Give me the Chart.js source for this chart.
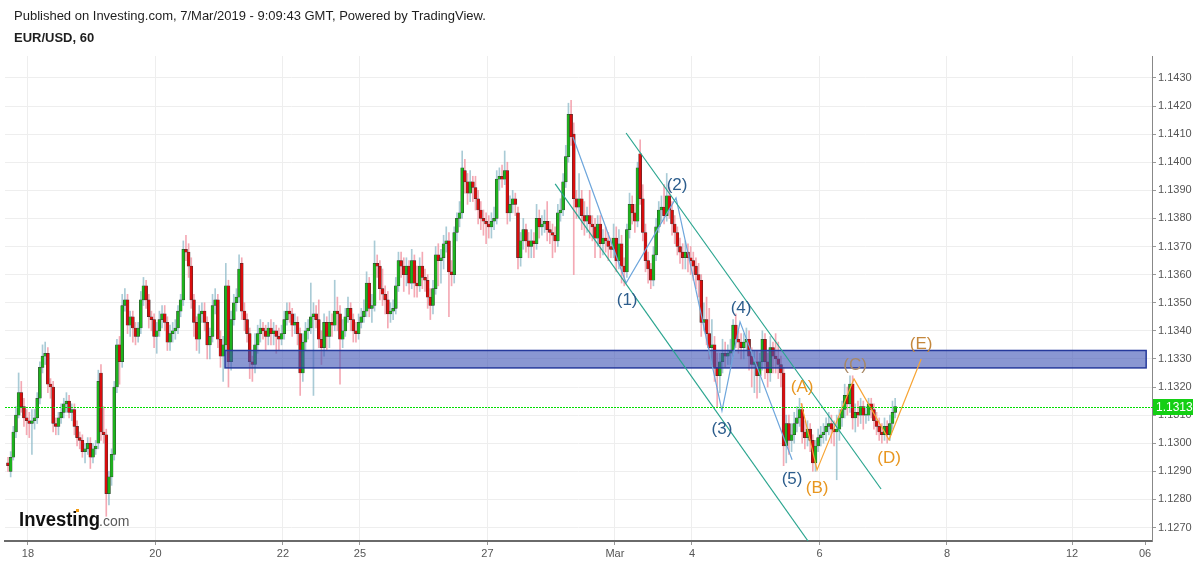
<!DOCTYPE html>
<html><head><meta charset="utf-8">
<script src="https://cdn.jsdelivr.net/npm/chart.js@4.4.0/dist/chart.umd.min.js"></script>
<style>html,body{margin:0;padding:0;background:#fff;}#wrap{width:1200px;height:563px;}</style>
</head><body><div id="wrap"><canvas id="c" width="1200" height="563"></canvas></div>
<script>
// ---- data (hourly EUR/USD candles) ----
const opens=[1.1293,1.1290,1.1295,1.1304,1.1310,1.1318,1.1313,1.1309,1.1308,1.1307,
1.1308,1.1309,1.1316,1.1327,1.1331,1.1332,1.1321,1.1320,1.1307,1.1306,
1.1309,1.1311,1.1314,1.1315,1.1311,1.1312,1.1306,1.1302,1.1301,1.1297,
1.1298,1.1300,1.1295,1.1298,1.1300,1.1325,1.1304,1.1303,1.1282,1.1288,
1.1296,1.1320,1.1335,1.1329,1.1349,1.1351,1.1342,1.1345,1.1341,1.1338,
1.1341,1.1351,1.1356,1.1351,1.1345,1.1344,1.1338,1.1340,1.1344,1.1346,
1.1343,1.1336,1.1339,1.1340,1.1341,1.1347,1.1351,1.1369,1.1368,1.1363,
1.1351,1.1343,1.1337,1.1346,1.1347,1.1343,1.1335,1.1338,1.1349,1.1351,
1.1337,1.1331,1.1335,1.1356,1.1329,1.1344,1.1350,1.1352,1.1364,1.1347,
1.1344,1.1339,1.1329,1.1328,1.1335,1.1339,1.1341,1.1340,1.1338,1.1341,
1.1339,1.1340,1.1338,1.1337,1.1339,1.1344,1.1347,1.1346,1.1342,1.1343,
1.1339,1.1325,1.1336,1.1340,1.1341,1.1345,1.1346,1.1344,1.1337,1.1334,
1.1343,1.1338,1.1343,1.1342,1.1347,1.1346,1.1337,1.1340,1.1345,1.1348,
1.1344,1.1340,1.1339,1.1343,1.1345,1.1347,1.1357,1.1348,1.1349,1.1364,
1.1363,1.1355,1.1353,1.1351,1.1346,1.1347,1.1348,1.1356,1.1365,1.1363,
1.1360,1.1363,1.1357,1.1365,1.1357,1.1356,1.1363,1.1359,1.1358,1.1352,
1.1349,1.1355,1.1367,1.1365,1.1366,1.1371,1.1372,1.1361,1.1360,1.1375,
1.1380,1.1382,1.1397,1.1393,1.1389,1.1393,1.1391,1.1387,1.1383,1.1380,
1.1379,1.1378,1.1377,1.1379,1.1380,1.1394,1.1395,1.1394,1.1397,1.1382,
1.1385,1.1387,1.1382,1.1366,1.1372,1.1376,1.1372,1.1370,1.1372,1.1371,
1.1380,1.1377,1.1378,1.1379,1.1376,1.1375,1.1374,1.1372,1.1382,1.1383,
1.1393,1.1402,1.1417,1.1410,1.1387,1.1384,1.1387,1.1381,1.1379,1.1381,
1.1378,1.1377,1.1373,1.1378,1.1371,1.1373,1.1372,1.1370,1.1369,1.1373,
1.1365,1.1371,1.1363,1.1361,1.1376,1.1385,1.1382,1.1379,1.1403,1.1387,
1.1375,1.1365,1.1362,1.1358,1.1367,1.1377,1.1383,1.1384,1.1381,1.1388,
1.1383,1.1378,1.1375,1.1370,1.1368,1.1366,1.1368,1.1366,1.1365,1.1363,
1.1360,1.1358,1.1343,1.1344,1.1339,1.1334,1.1335,1.1327,1.1324,1.1329,
1.1332,1.1331,1.1332,1.1333,1.1342,1.1337,1.1336,1.1334,1.1336,1.1337,
1.1331,1.1328,1.1329,1.1324,1.1329,1.1337,1.1329,1.1325,1.1334,1.1331,
1.1330,1.1328,1.1325,1.1299,1.1307,1.1301,1.1303,1.1307,1.1309,1.1312,
1.1304,1.1302,1.1305,1.1301,1.1293,1.1299,1.1302,1.1303,1.1304,1.1306,
1.1307,1.1305,1.1304,1.1305,1.1309,1.1312,1.1317,1.1314,1.1321,1.1309,
1.1311,1.1310,1.1313,1.1310,1.1310,1.1314,1.1312,1.1308,1.1306,1.1304,
1.1303,1.1306,1.1303,1.1307,1.1311];
const highs=[1.1295,1.1297,1.1306,1.1313,1.1325,1.1322,1.1316,1.1312,1.1311,1.1312,
1.1312,1.1318,1.1329,1.1335,1.1336,1.1334,1.1323,1.1322,1.1309,1.1311,
1.1314,1.1316,1.1318,1.1317,1.1314,1.1314,1.1308,1.1304,1.1303,1.1300,
1.1302,1.1302,1.1300,1.1301,1.1326,1.1328,1.1313,1.1305,1.1290,1.1298,
1.1322,1.1337,1.1338,1.1353,1.1355,1.1353,1.1347,1.1347,1.1343,1.1343,
1.1354,1.1359,1.1358,1.1353,1.1347,1.1346,1.1343,1.1347,1.1349,1.1349,
1.1345,1.1342,1.1343,1.1344,1.1349,1.1353,1.1372,1.1374,1.1371,1.1366,
1.1353,1.1345,1.1349,1.1350,1.1350,1.1345,1.1341,1.1353,1.1355,1.1353,
1.1340,1.1338,1.1364,1.1358,1.1347,1.1353,1.1355,1.1367,1.1366,1.1350,
1.1346,1.1341,1.1331,1.1339,1.1342,1.1344,1.1343,1.1342,1.1343,1.1344,
1.1343,1.1342,1.1341,1.1342,1.1347,1.1350,1.1350,1.1348,1.1346,1.1345,
1.1341,1.1339,1.1343,1.1344,1.1357,1.1350,1.1349,1.1351,1.1340,1.1346,
1.1345,1.1347,1.1346,1.1358,1.1352,1.1349,1.1344,1.1348,1.1352,1.1350,
1.1346,1.1343,1.1346,1.1348,1.1351,1.1361,1.1359,1.1353,1.1372,1.1367,
1.1365,1.1362,1.1356,1.1354,1.1350,1.1351,1.1359,1.1368,1.1368,1.1366,
1.1366,1.1365,1.1369,1.1367,1.1363,1.1366,1.1368,1.1362,1.1360,1.1355,
1.1358,1.1370,1.1371,1.1369,1.1374,1.1377,1.1375,1.1365,1.1377,1.1382,
1.1386,1.1404,1.1401,1.1396,1.1397,1.1395,1.1395,1.1390,1.1386,1.1383,
1.1382,1.1381,1.1382,1.1384,1.1397,1.1398,1.1399,1.1404,1.1400,1.1388,
1.1390,1.1389,1.1384,1.1375,1.1380,1.1378,1.1375,1.1376,1.1375,1.1385,
1.1383,1.1381,1.1383,1.1386,1.1379,1.1378,1.1377,1.1385,1.1387,1.1396,
1.1406,1.1421,1.1422,1.1414,1.1390,1.1396,1.1390,1.1386,1.1384,1.1390,
1.1381,1.1380,1.1381,1.1381,1.1376,1.1377,1.1375,1.1373,1.1378,1.1377,
1.1376,1.1374,1.1366,1.1378,1.1389,1.1388,1.1385,1.1400,1.1408,1.1392,
1.1378,1.1368,1.1364,1.1370,1.1380,1.1386,1.1388,1.1392,1.1396,1.1391,
1.1386,1.1381,1.1377,1.1373,1.1371,1.1372,1.1371,1.1370,1.1368,1.1366,
1.1364,1.1360,1.1350,1.1352,1.1348,1.1344,1.1338,1.1332,1.1332,1.1337,
1.1336,1.1335,1.1337,1.1344,1.1346,1.1340,1.1339,1.1339,1.1341,1.1340,
1.1334,1.1333,1.1333,1.1332,1.1340,1.1339,1.1332,1.1338,1.1336,1.1339,
1.1336,1.1331,1.1327,1.1310,1.1310,1.1307,1.1311,1.1313,1.1316,1.1314,
1.1308,1.1308,1.1307,1.1303,1.1301,1.1305,1.1306,1.1307,1.1309,1.1311,
1.1310,1.1308,1.1310,1.1312,1.1315,1.1321,1.1320,1.1324,1.1324,1.1314,
1.1315,1.1316,1.1315,1.1313,1.1316,1.1316,1.1314,1.1311,1.1309,1.1307,
1.1309,1.1308,1.1310,1.1315,1.1316];
const lows=[1.1290,1.1288,1.1294,1.1302,1.1309,1.1311,1.1306,1.1303,1.1302,1.1296,
1.1305,1.1307,1.1314,1.1325,1.1328,1.1318,1.1316,1.1304,1.1303,1.1303,
1.1307,1.1309,1.1311,1.1309,1.1308,1.1303,1.1299,1.1298,1.1295,1.1293,
1.1296,1.1291,1.1293,1.1296,1.1298,1.1301,1.1300,1.1274,1.1278,1.1285,
1.1294,1.1318,1.1321,1.1327,1.1347,1.1339,1.1338,1.1336,1.1335,1.1336,
1.1339,1.1349,1.1348,1.1341,1.1340,1.1334,1.1332,1.1338,1.1341,1.1340,
1.1333,1.1333,1.1336,1.1337,1.1339,1.1345,1.1349,1.1365,1.1359,1.1348,
1.1338,1.1333,1.1332,1.1343,1.1340,1.1330,1.1330,1.1336,1.1346,1.1334,
1.1327,1.1322,1.1333,1.1320,1.1326,1.1342,1.1347,1.1350,1.1344,1.1340,
1.1336,1.1323,1.1322,1.1325,1.1332,1.1336,1.1337,1.1333,1.1335,1.1335,
1.1335,1.1332,1.1333,1.1335,1.1337,1.1342,1.1343,1.1338,1.1339,1.1335,
1.1317,1.1322,1.1333,1.1337,1.1339,1.1317,1.1341,1.1334,1.1328,1.1331,
1.1333,1.1334,1.1338,1.1340,1.1340,1.1321,1.1334,1.1338,1.1343,1.1340,
1.1336,1.1336,1.1337,1.1341,1.1343,1.1345,1.1345,1.1343,1.1347,1.1359,
1.1351,1.1349,1.1346,1.1341,1.1343,1.1344,1.1346,1.1354,1.1359,1.1354,
1.1356,1.1353,1.1355,1.1352,1.1352,1.1354,1.1355,1.1354,1.1348,1.1344,
1.1346,1.1353,1.1356,1.1357,1.1362,1.1368,1.1345,1.1356,1.1357,1.1372,
1.1377,1.1380,1.1389,1.1385,1.1386,1.1386,1.1383,1.1378,1.1376,1.1374,
1.1371,1.1373,1.1373,1.1376,1.1378,1.1390,1.1391,1.1392,1.1378,1.1379,
1.1382,1.1381,1.1362,1.1363,1.1369,1.1368,1.1366,1.1366,1.1366,1.1369,
1.1373,1.1374,1.1375,1.1372,1.1371,1.1366,1.1368,1.1370,1.1379,1.1381,
1.1391,1.1400,1.1406,1.1360,1.1380,1.1380,1.1376,1.1374,1.1375,1.1373,
1.1372,1.1366,1.1370,1.1366,1.1367,1.1368,1.1365,1.1366,1.1366,1.1361,
1.1362,1.1357,1.1356,1.1359,1.1373,1.1378,1.1375,1.1377,1.1385,1.1372,
1.1361,1.1357,1.1355,1.1356,1.1365,1.1375,1.1379,1.1378,1.1379,1.1380,
1.1374,1.1371,1.1367,1.1364,1.1362,1.1362,1.1361,1.1360,1.1358,1.1355,
1.1352,1.1338,1.1340,1.1335,1.1330,1.1328,1.1322,1.1313,1.1318,1.1325,
1.1327,1.1328,1.1328,1.1331,1.1334,1.1332,1.1330,1.1330,1.1333,1.1326,
1.1320,1.1318,1.1316,1.1318,1.1326,1.1323,1.1320,1.1322,1.1325,1.1325,
1.1323,1.1320,1.1292,1.1293,1.1296,1.1297,1.1300,1.1304,1.1306,1.1300,
1.1298,1.1299,1.1297,1.1290,1.1290,1.1297,1.1299,1.1300,1.1301,1.1303,
1.1300,1.1299,1.1287,1.1301,1.1306,1.1309,1.1310,1.1311,1.1305,1.1304,
1.1306,1.1307,1.1305,1.1307,1.1308,1.1309,1.1305,1.1303,1.1301,1.1300,
1.1301,1.1300,1.1301,1.1305,1.1309];
const closes=[1.1292,1.1295,1.1304,1.1310,1.1318,1.1313,1.1309,1.1308,1.1307,1.1308,
1.1309,1.1316,1.1327,1.1331,1.1332,1.1321,1.1320,1.1307,1.1306,1.1309,
1.1311,1.1314,1.1315,1.1311,1.1312,1.1306,1.1302,1.1301,1.1297,1.1298,
1.1300,1.1295,1.1298,1.1299,1.1322,1.1304,1.1303,1.1282,1.1288,1.1296,
1.1320,1.1335,1.1329,1.1349,1.1351,1.1342,1.1345,1.1341,1.1338,1.1341,
1.1351,1.1356,1.1351,1.1345,1.1344,1.1338,1.1340,1.1344,1.1346,1.1343,
1.1336,1.1339,1.1340,1.1341,1.1347,1.1351,1.1369,1.1368,1.1363,1.1351,
1.1343,1.1337,1.1346,1.1347,1.1343,1.1335,1.1338,1.1349,1.1351,1.1337,
1.1331,1.1335,1.1356,1.1329,1.1344,1.1350,1.1352,1.1362,1.1347,1.1344,
1.1339,1.1329,1.1328,1.1335,1.1339,1.1341,1.1340,1.1338,1.1341,1.1339,
1.1340,1.1338,1.1337,1.1339,1.1344,1.1347,1.1346,1.1342,1.1343,1.1339,
1.1325,1.1336,1.1340,1.1341,1.1345,1.1346,1.1344,1.1337,1.1334,1.1343,
1.1338,1.1343,1.1342,1.1347,1.1346,1.1337,1.1340,1.1345,1.1348,1.1344,
1.1340,1.1339,1.1343,1.1345,1.1347,1.1357,1.1348,1.1349,1.1364,1.1363,
1.1355,1.1353,1.1351,1.1346,1.1347,1.1348,1.1356,1.1365,1.1363,1.1360,
1.1363,1.1357,1.1365,1.1357,1.1356,1.1363,1.1359,1.1358,1.1352,1.1349,
1.1355,1.1367,1.1365,1.1366,1.1371,1.1372,1.1361,1.1360,1.1375,1.1380,
1.1382,1.1398,1.1393,1.1389,1.1393,1.1391,1.1387,1.1383,1.1380,1.1379,
1.1378,1.1377,1.1379,1.1380,1.1394,1.1395,1.1394,1.1397,1.1382,1.1385,
1.1387,1.1385,1.1366,1.1372,1.1376,1.1372,1.1370,1.1372,1.1371,1.1380,
1.1377,1.1378,1.1379,1.1376,1.1375,1.1374,1.1372,1.1382,1.1383,1.1393,
1.1402,1.1417,1.1409,1.1387,1.1384,1.1387,1.1381,1.1379,1.1381,1.1378,
1.1377,1.1373,1.1378,1.1371,1.1373,1.1372,1.1370,1.1369,1.1373,1.1365,
1.1371,1.1363,1.1361,1.1376,1.1385,1.1382,1.1379,1.1398,1.1387,1.1375,
1.1365,1.1362,1.1358,1.1367,1.1377,1.1383,1.1384,1.1381,1.1388,1.1383,
1.1378,1.1375,1.1370,1.1368,1.1366,1.1368,1.1366,1.1365,1.1363,1.1360,
1.1358,1.1343,1.1344,1.1339,1.1334,1.1335,1.1327,1.1324,1.1329,1.1332,
1.1331,1.1332,1.1333,1.1342,1.1337,1.1336,1.1334,1.1336,1.1337,1.1331,
1.1328,1.1329,1.1324,1.1329,1.1337,1.1329,1.1325,1.1334,1.1331,1.1330,
1.1328,1.1325,1.1299,1.1307,1.1301,1.1303,1.1307,1.1309,1.1312,1.1304,
1.1302,1.1305,1.1301,1.1293,1.1299,1.1302,1.1303,1.1304,1.1306,1.1307,
1.1305,1.1304,1.1305,1.1309,1.1312,1.1317,1.1314,1.1321,1.1309,1.1311,
1.1310,1.1313,1.1310,1.1310,1.1314,1.1312,1.1308,1.1306,1.1304,1.1303,
1.1306,1.1303,1.1307,1.1311,1.1313];

const yTicks=[1.1270,1.1280,1.1290,1.1300,1.1310,1.1320,1.1330,1.1340,1.1350,1.1360,1.1370,1.1380,1.1390,1.1400,1.1410,1.1420,1.1430];
const xTickPos=[7.5,55.5,103.5,132.5,180.5,228.5,257.5,305.5,353.5,400.6,428.1];
const xTickLabels=['18','20','22','25','27','Mar','4','6','8','12','06'];
const lastPrice=1.1313;
// drawings (bar index / price)
const zoneX=[81.7,428.5];
const zoneY=[1.13268,1.13330];
const chanUpX=[232.7,328.7], chanUpY=[1.14104,1.12837];
const chanLoX=[206.0,301.2], chanLoY=[1.13923,1.12652];
const waveX=[212.7,232.7,251.5,268.8,275.6,295.2];
const waveY=[1.14090,1.13570,1.13873,1.13115,1.13432,1.12941];
const abcX=[298.6,304.6,318.5,331.7,343.8];
const abcY=[1.13143,1.12905,1.13229,1.13012,1.13300];
const waveLabels=['(1)','(2)','(3)','(4)','(5)'];
const waveLabelX=[233.1,251.9,268.8,276.0,295.2];
const waveLabelY=[1.13510,1.13919,1.13051,1.13481,1.12873];
const abcLabels=['(A)','(B)','(C)','(D)','(E)'];
const abcLabelX=[299.0,304.6,318.9,331.7,343.8];
const abcLabelY=[1.13200,1.12841,1.13279,1.12948,1.13353];
const abcLabelColors=['#e8961f','#e8961f','#a88865','#e8961f','#c4873c'];

const FONT='Arial, "Liberation Sans", sans-serif';
Chart.defaults.font.family=FONT;

const idx=closes.map((_,i)=>i);
const isUp=idx.map(i=>closes[i]>=opens[i]);
const pts=(xs,ys)=>xs.map((x,k)=>({x:x,y:ys[k]}));

const overlay={
  id:'overlay',
  afterDatasetDraw(chart,args){
    if(args.meta.label!=='bodies')return;
    const {ctx,chartArea:ca,scales:{x,y}}=chart;
    const x0=x.getPixelForValue(zoneX[0]),x1=x.getPixelForValue(zoneX[1]);
    const yT=y.getPixelForValue(zoneY[1]),yB=y.getPixelForValue(zoneY[0]);
    ctx.save();
    ctx.beginPath();ctx.rect(ca.left,ca.top,ca.right-ca.left,ca.bottom-ca.top);ctx.clip();
    ctx.fillStyle='rgba(60,82,180,0.6)';
    ctx.fillRect(x0,yT,x1-x0,yB-yT);
    ctx.strokeStyle='#263a9c';ctx.lineWidth=1.5;
    ctx.strokeRect(x0,yT,x1-x0,yB-yT);
    ctx.restore();
  },
  afterDatasetsDraw(chart){
    const {ctx,chartArea:ca,scales:{x,y}}=chart;
    ctx.save();
    // last price dotted line (crisp pixel dots)
    const py=Math.round(y.getPixelForValue(lastPrice));
    ctx.fillStyle='#00dd00';
    for(let px=Math.ceil(ca.left);px<ca.right;px+=3){ctx.fillRect(px,py,2,1);}
    // wave labels
    ctx.font='17px '+FONT;ctx.textAlign='center';ctx.textBaseline='middle';
    ctx.fillStyle='#2c5d8c';
    waveLabels.forEach((t,k)=>ctx.fillText(t,x.getPixelForValue(waveLabelX[k]),y.getPixelForValue(waveLabelY[k])));
    abcLabels.forEach((t,k)=>{ctx.fillStyle=abcLabelColors[k];ctx.fillText(t,x.getPixelForValue(abcLabelX[k]),y.getPixelForValue(abcLabelY[k]));});
    ctx.restore();
  },
  afterDraw(chart){
    const {ctx,chartArea:ca,scales:{y}}=chart;
    ctx.save();
    // price tag
    const py=Math.round(y.getPixelForValue(lastPrice));
    ctx.fillStyle='#14cf14';
    ctx.fillRect(ca.right+1,py-8,40,16);
    ctx.fillStyle='#ffffff';ctx.font='12px '+FONT;ctx.textAlign='left';ctx.textBaseline='middle';
    ctx.fillText(lastPrice.toFixed(4),ca.right+4,py+1);
    // header
    ctx.fillStyle='#1e1e1e';ctx.font='13px '+FONT;ctx.textBaseline='middle';
    ctx.fillText('Published on Investing.com, 7/Mar/2019 - 9:09:43 GMT, Powered by TradingView.',14,16);
    ctx.font='bold 13px '+FONT;
    ctx.fillText('EUR/USD, 60',14,38);
    // logo
    ctx.textBaseline='alphabetic';
    ctx.font='bold 20px '+FONT;
    const w=ctx.measureText('Investing').width;
    ctx.save();ctx.translate(19,526);ctx.scale(81/w,1);
    ctx.fillStyle='#111';ctx.fillText('Investing',0,0);ctx.restore();
    ctx.fillStyle='#f39c12';ctx.fillRect(76,509,3,3);
    ctx.fillStyle='#5a5a5a';ctx.font='14px '+FONT;
    ctx.fillText('.com',99,526);
    ctx.restore();
  }
};

new Chart(document.getElementById('c'),{
  type:'bar',
  data:{datasets:[
    {type:'line',label:'chanUp',data:pts(chanUpX,chanUpY),borderColor:'#2aa58f',borderWidth:1.2,pointRadius:0,order:0},
    {type:'line',label:'chanLo',data:pts(chanLoX,chanLoY),borderColor:'#2aa58f',borderWidth:1.2,pointRadius:0,order:0},
    {type:'line',label:'wave',data:pts(waveX,waveY),borderColor:'#6ea6dc',borderWidth:1.2,pointRadius:0,order:0},
    {type:'line',label:'abcde',data:pts(abcX,abcY),borderColor:'#f7a535',borderWidth:1.2,pointRadius:0,order:0},
    {label:'bodies',data:idx.map(i=>({x:i,y:[opens[i],closes[i]]})),
     backgroundColor:idx.map(i=>isUp[i]?'#1db21d':'#d80d0d'),borderColor:'#333',borderWidth:0.5,
     borderSkipped:false,barThickness:3,minBarLength:1,grouped:false,order:1},
    {label:'wicks',data:idx.map(i=>({x:i,y:[lows[i],highs[i]]})),
     backgroundColor:idx.map(i=>isUp[i]?'rgba(140,185,200,0.75)':'rgba(240,140,155,0.75)'),
     borderWidth:0,barThickness:1,grouped:false,order:2}
  ]},
  options:{
    responsive:false,animation:false,devicePixelRatio:1,
    layout:{padding:{top:56,left:5,right:0,bottom:0}},
    plugins:{legend:{display:false},tooltip:{enabled:false}},
    scales:{
      x:{type:'linear',min:-1.13,max:430.7,offset:false,
         afterBuildTicks:s=>{s.ticks=xTickPos.map(v=>({value:v}));},
         afterFit:s=>{s.height=22;},
         grid:{offset:false,color:c=>(c.index===xTickPos.length-1?'rgba(0,0,0,0)':'#eeeeee'),tickLength:4,tickColor:'#999'},
         border:{color:'#6a6a6a',width:2},
         ticks:{autoSkip:false,maxRotation:0,padding:2,color:'#555',font:{size:11},
                callback:(v,i)=>xTickLabels[i]}},
      y:{type:'linear',position:'right',min:1.12652,max:1.14378,
         afterBuildTicks:s=>{s.ticks=yTicks.map(v=>({value:v}));},
         afterFit:s=>{s.width=48;},
         grid:{color:'#eeeeee',tickLength:4,tickColor:'#999'},
         border:{color:'#888'},
         ticks:{padding:2,color:'#555',font:{size:11},callback:v=>Number(v).toFixed(4)}}
    }
  },
  plugins:[overlay]
});
</script>
</body></html>
